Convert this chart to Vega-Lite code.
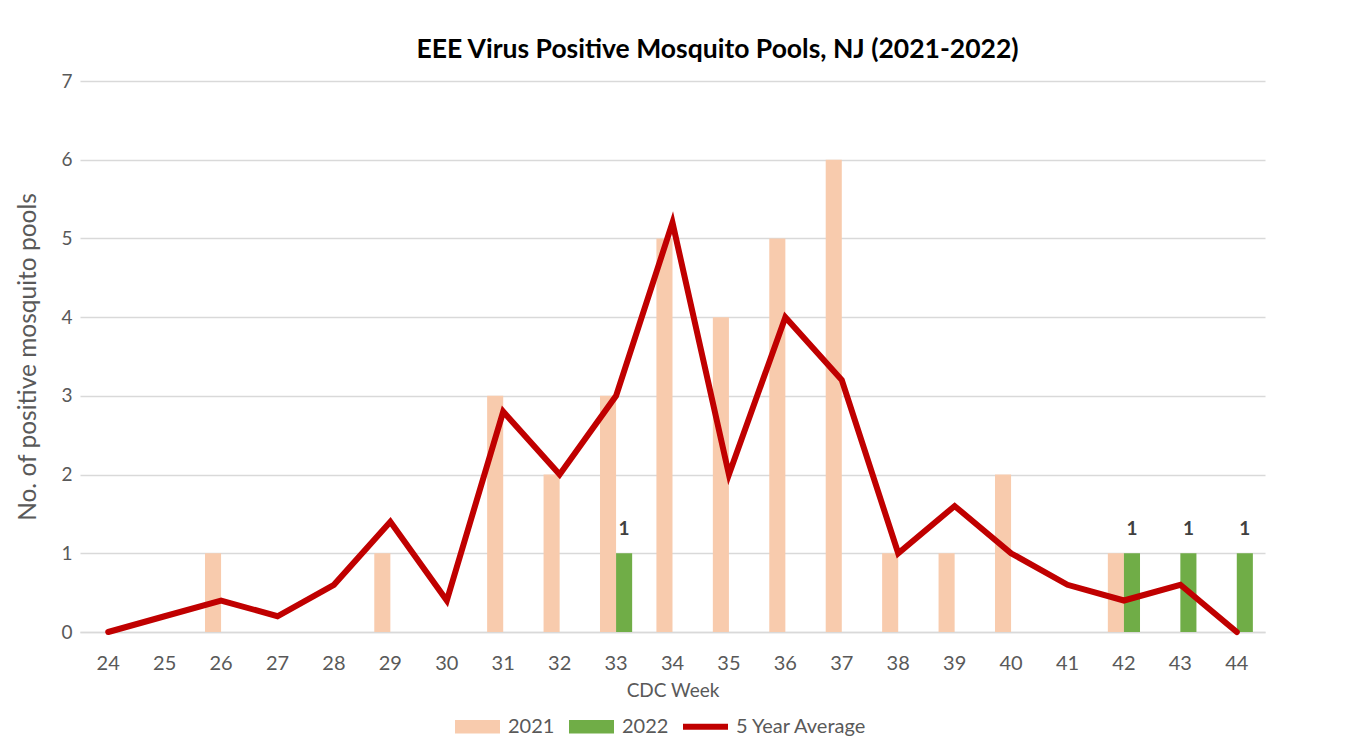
{
  "$schema": "https://vega.github.io/schema/vega-lite/v6.json",
  "width": 1185,
  "height": 551,
  "autosize": {"type": "none"},
  "padding": {"left": 80, "top": 81, "right": 86, "bottom": 121},
  "background": "white",
  "config": {
    "font": "Lato",
    "view": {"stroke": null}
  },
  "title": {
    "text": "EEE Virus Positive Mosquito Pools, NJ (2021-2022)",
    "font": "Lato",
    "fontSize": 26.5,
    "fontWeight": "bold",
    "color": "#000000",
    "anchor": "middle",
    "dx": 45,
    "offset": 9
  },
  "data": {
    "values": [
      {"week": 24, "series": "2021", "value": 0},
      {"week": 25, "series": "2021", "value": 0},
      {"week": 26, "series": "2021", "value": 1},
      {"week": 27, "series": "2021", "value": 0},
      {"week": 28, "series": "2021", "value": 0},
      {"week": 29, "series": "2021", "value": 1},
      {"week": 30, "series": "2021", "value": 0},
      {"week": 31, "series": "2021", "value": 3},
      {"week": 32, "series": "2021", "value": 2},
      {"week": 33, "series": "2021", "value": 3},
      {"week": 34, "series": "2021", "value": 5},
      {"week": 35, "series": "2021", "value": 4},
      {"week": 36, "series": "2021", "value": 5},
      {"week": 37, "series": "2021", "value": 6},
      {"week": 38, "series": "2021", "value": 1},
      {"week": 39, "series": "2021", "value": 1},
      {"week": 40, "series": "2021", "value": 2},
      {"week": 41, "series": "2021", "value": 0},
      {"week": 42, "series": "2021", "value": 1},
      {"week": 43, "series": "2021", "value": 0},
      {"week": 44, "series": "2021", "value": 0},
      {"week": 33, "series": "2022", "value": 1},
      {"week": 42, "series": "2022", "value": 1},
      {"week": 43, "series": "2022", "value": 1},
      {"week": 44, "series": "2022", "value": 1},
      {"week": 24, "series": "5 Year Average", "value": 0},
      {"week": 25, "series": "5 Year Average", "value": 0.2},
      {"week": 26, "series": "5 Year Average", "value": 0.4},
      {"week": 27, "series": "5 Year Average", "value": 0.2},
      {"week": 28, "series": "5 Year Average", "value": 0.6},
      {"week": 29, "series": "5 Year Average", "value": 1.4},
      {"week": 30, "series": "5 Year Average", "value": 0.4},
      {"week": 31, "series": "5 Year Average", "value": 2.8},
      {"week": 32, "series": "5 Year Average", "value": 2.0},
      {"week": 33, "series": "5 Year Average", "value": 3.0},
      {"week": 34, "series": "5 Year Average", "value": 5.2},
      {"week": 35, "series": "5 Year Average", "value": 2.0},
      {"week": 36, "series": "5 Year Average", "value": 4.0},
      {"week": 37, "series": "5 Year Average", "value": 3.2},
      {"week": 38, "series": "5 Year Average", "value": 1.0},
      {"week": 39, "series": "5 Year Average", "value": 1.6},
      {"week": 40, "series": "5 Year Average", "value": 1.0},
      {"week": 41, "series": "5 Year Average", "value": 0.6},
      {"week": 42, "series": "5 Year Average", "value": 0.4},
      {"week": 43, "series": "5 Year Average", "value": 0.6},
      {"week": 44, "series": "5 Year Average", "value": 0}
    ]
  },
  "encoding": {
    "x": {
      "field": "week",
      "type": "ordinal",
      "scale": {"paddingInner": 0.43, "paddingOuter": 0.215},
      "axis": {
        "title": "CDC Week",
        "titleFont": "Lato",
        "titleFontSize": 19,
        "titleFontWeight": "normal",
        "titleColor": "#595959",
        "titlePadding": 8,
        "labelAngle": 0,
        "labelFont": "Lato",
        "labelFontSize": 20,
        "labelColor": "#595959",
        "labelPadding": 21,
        "ticks": false,
        "domainColor": "#D9D9D9",
        "domainWidth": 1.5,
        "grid": false
      }
    }
  },
  "layer": [
    {
      "transform": [{"filter": "datum.series !== '5 Year Average'"}],
      "mark": {"type": "bar"},
      "encoding": {
        "xOffset": {"field": "series", "type": "nominal", "scale": {"domain": ["2021", "2022"]}},
        "y": {
          "field": "value",
          "type": "quantitative",
          "scale": {"domain": [0, 7]},
          "axis": {
            "title": "No. of positive mosquito pools",
            "titleFont": "Lato",
            "titleFontSize": 24.5,
            "titleFontWeight": "normal",
            "titleColor": "#595959",
            "titlePadding": 20,
            "values": [0, 1, 2, 3, 4, 5, 6, 7],
            "format": "d",
            "labelFont": "Lato",
            "labelFontSize": 19,
            "labelColor": "#595959",
            "labelPadding": 8,
            "ticks": false,
            "domain": false,
            "gridColor": "#D9D9D9",
            "gridWidth": 1.5
          }
        },
        "color": {
          "field": "series",
          "type": "nominal",
          "scale": {
            "domain": ["2021", "2022", "5 Year Average"],
            "range": ["#F8CBAD", "#70AD47", "#C00000"]
          },
          "legend": {
            "title": null,
            "orient": "none",
            "direction": "horizontal",
            "legendX": 375,
            "legendY": 623,
            "labelFont": "Lato",
            "labelFontSize": 20,
            "labelColor": "#595959",
            "labelOffset": 8,
            "columnPadding": 14,
            "symbolSize": 2025,
            "symbolStrokeWidth": 0,
            "encode": {
              "symbols": {
                "update": {
                  "shape": {"signal": "datum.value === '5 Year Average' ? 'M-1,-0.13H1V0.13H-1Z' : 'M-1,-0.3H1V0.3H-1Z'"},
                  "fill": {"scale": "color", "field": "value"},
                  "strokeWidth": {"value": 0},
                  "opacity": {"value": 1}
                }
              }
            }
          }
        }
      }
    },
    {
      "transform": [{"filter": "datum.series === '2022' && datum.value > 0"}],
      "mark": {"type": "text", "baseline": "bottom", "dy": -14, "fontSize": 19, "fontWeight": "bold", "font": "Lato", "color": "#404040"},
      "encoding": {
        "xOffset": {"field": "series", "type": "nominal"},
        "y": {"field": "value", "type": "quantitative"},
        "text": {"field": "value", "type": "quantitative"}
      }
    },
    {
      "transform": [{"filter": "datum.series === '5 Year Average'"}],
      "mark": {"type": "line", "strokeWidth": 6, "strokeCap": "round", "strokeJoin": "miter"},
      "encoding": {
        "y": {"field": "value", "type": "quantitative"},
        "color": {"field": "series", "type": "nominal"}
      }
    }
  ]
}
